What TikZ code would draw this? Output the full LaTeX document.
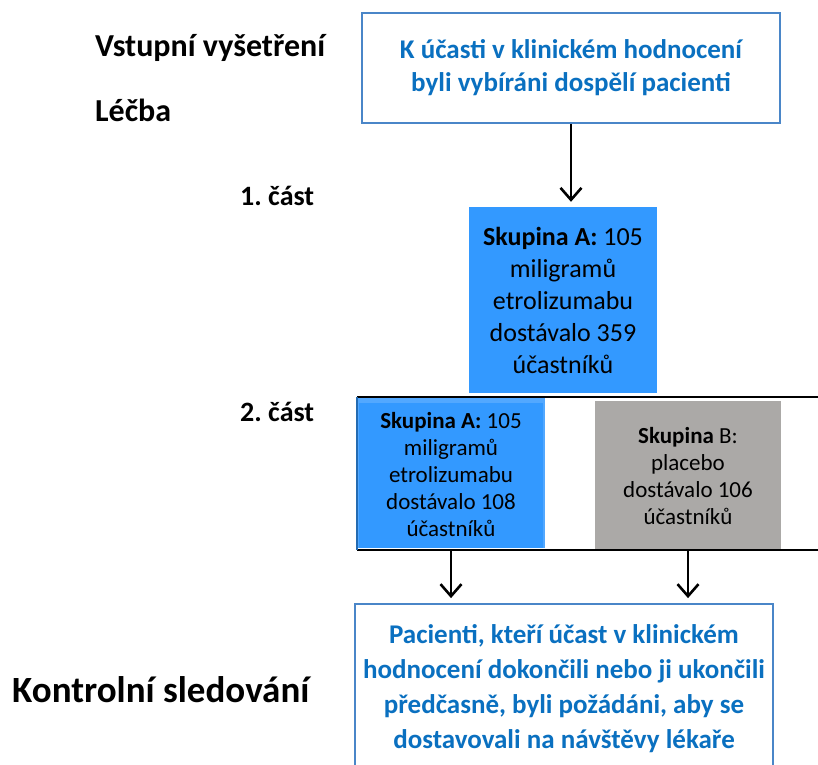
\documentclass[tikz,border=0pt]{standalone}
\usepackage{fontspec}
\setmainfont{Carlito}
\usepackage{tikz}
\usetikzlibrary{arrows.meta}
\definecolor{frameblue}{HTML}{4A86C8}
\definecolor{textblue}{HTML}{0A70C0}
\definecolor{armblue}{HTML}{3399FF}
\definecolor{armgrey}{HTML}{ABA9A7}
\tikzstyle{flow}=[shorten >=5pt,draw=black,line width=2.6pt,-{Straight Barb[length=12pt,width=21pt,line width=2.6pt]}]
\tikzstyle{frame}=[rectangle, draw=frameblue, line width=1.8pt, fill=white, text=textblue, align=center, inner sep=0pt, font=\bfseries]
\tikzstyle{arm}=[rectangle, inner sep=0pt, align=center, font=\fontsize{23}{27}\selectfont]
\tikzstyle{phase}=[inner sep=0pt, anchor=west, font=\bfseries\fontsize{32}{36}\selectfont]
\tikzstyle{band}=[-, line width=2.4pt]

\begin{document}
\begin{tikzpicture}[x=1pt,y=-1pt]
			\clip (0,0) rectangle (818,764);
			\fill[white] (0,0) rectangle (818,764);
			
			%The phase labels
			\draw (95,48) node[phase] (screen) {Vstupní vyšetření};
			\draw (95,110) node[phase] (treat) {Léčba};
			\draw (240,196) node[phase, font=\bfseries\fontsize{28}{32}\selectfont] (part1) {1.\ část};
			\draw (240,412) node[phase, font=\bfseries\fontsize{28}{32}\selectfont] (part2) {2.\ část};
			\draw (12,690) node[phase, font=\bfseries\fontsize{37}{42}\selectfont] (follow) {Kontrolní sledování};
			
			%The entry box
			\draw (571,68) node[frame, minimum width=418pt, minimum height=110pt, font=\bfseries\fontsize{27}{33}\selectfont] (entry) {K účasti v klinickém hodnocení\\byli vybíráni dospělí pacienti};
			
			%Part 1
			\draw (563,300) node[arm, fill=armblue, minimum width=188pt, minimum height=186pt, font=\fontsize{26}{32}\selectfont] (armA1) {\textbf{Skupina A:} 105\\miligramů\\etrolizumabu\\dostávalo 359\\účastníků};
			
			%Part 2 band
			\coordinate (bandtopL) at (357,397);
			\coordinate (bandtopR) at (818,397);
			\coordinate (bandbotL) at (357,550);
			\coordinate (bandbotR) at (818,550);
			\fill[armblue!85!white] (357,397) rectangle (545,548);
			\draw (451,475) node[arm, fill=armblue, minimum width=184pt, minimum height=145pt] (armA2) {\textbf{Skupina A:} 105\\miligramů\\etrolizumabu\\dostávalo 108\\účastníků};
			\draw (688,476) node[arm, fill=armgrey, minimum width=186pt, minimum height=150pt] (armB2) {\textbf{Skupina} B:\\placebo\\dostávalo 106\\účastníků};
			\draw[band] (bandtopL) -- (bandtopR);
			\draw[band] (bandbotL) -- (bandbotR);
			\draw[line width=1.2pt, armblue!70!black] (bandtopL) -- (bandbotL);
			
			%The follow-up box
			\draw (564,689) node[frame, minimum width=418pt, minimum height=170pt, font=\bfseries\fontsize{27}{35}\selectfont] (fup) {Pacienti, kteří účast v klinickém\\hodnocení dokončili nebo ji ukončili\\předčasně, byli požádáni, aby se\\dostavovali na návštěvy lékaře};
			
			%The arrows
			\draw[flow] (entry.south) -- (entry.south |- armA1.north);
			\draw[flow] (armA2.south |- bandbotL) -- (armA2.south |- fup.north);
			\draw[flow] (armB2.south |- bandbotL) -- (armB2.south |- fup.north);
		\end{tikzpicture}
\end{document}
